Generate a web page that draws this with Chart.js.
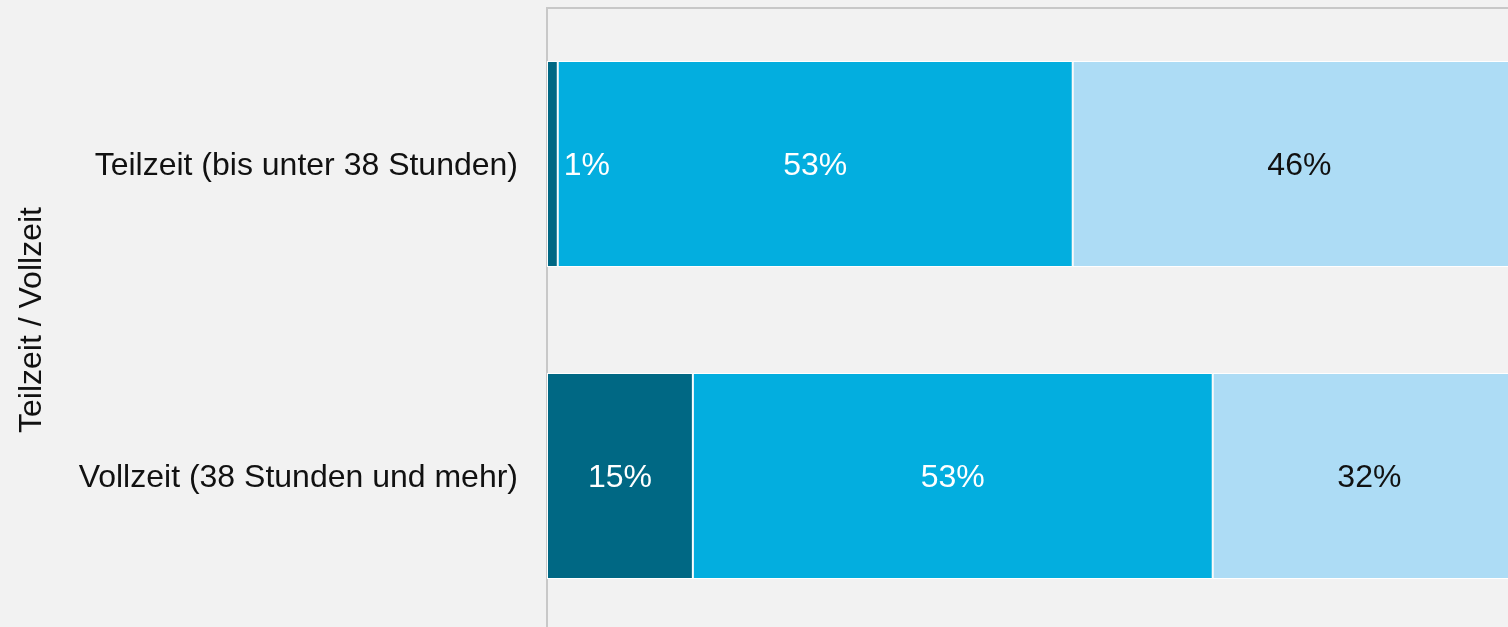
<!DOCTYPE html>
<html>
<head>
<meta charset="utf-8">
<script src="https://cdn.jsdelivr.net/npm/chart.js@4"></script>
<style>
  html, body { margin: 0; padding: 0; background: #f2f2f2; overflow: hidden; }
  #wrap { width: 1530px; height: 636px; }
</style>
</head>
<body>
<div id="wrap"><canvas id="chart"></canvas></div>
<script>
// categories and series (share in %)
const categories = ['Teilzeit (bis unter 38 Stunden)', 'Vollzeit (38 Stunden und mehr)'];
const seriesNames = ['niedrig', 'mittel', 'hoch'];
const seriesDark = [1.1, 14.9];
const seriesMid = [52.6, 53.1];
const seriesLight = [46.3, 32.0];
const axisTitle = 'Teilzeit / Vollzeit';

const colors = ['#006884', '#03aedf', '#addcf5'];
const labelColors = ['#ffffff', '#ffffff', '#111111'];
const fontFamily = '"Liberation Sans", Arial, sans-serif';

// draws the percent labels inside each segment
const barLabels = {
  id: 'barLabels',
  afterDatasetsDraw(chart) {
    const ctx = chart.ctx;
    ctx.save();
    ctx.font = '32px ' + fontFamily;
    ctx.textBaseline = 'middle';
    chart.data.datasets.forEach(function (ds, i) {
      const meta = chart.getDatasetMeta(i);
      meta.data.forEach(function (bar, j) {
        const v = ds.data[j];
        const text = Math.round(v) + '%';
        const w = Math.abs(bar.x - bar.base);
        ctx.fillStyle = labelColors[i];
        if (w < 40) {
          // too narrow, put it just right of the segment
          ctx.textAlign = 'left';
          ctx.fillText(text, bar.x + 6, bar.y + 2);
        } else {
          ctx.textAlign = 'center';
          ctx.fillText(text, (bar.x + bar.base) / 2, bar.y + 2);
        }
      });
    });
    ctx.restore();
  }
};

const ctx = document.getElementById('chart').getContext('2d');
new Chart(ctx, {
  type: 'bar',
  data: {
    labels: categories,
    datasets: [
      { label: seriesNames[0], data: seriesDark, backgroundColor: colors[0] },
      { label: seriesNames[1], data: seriesMid, backgroundColor: colors[1] },
      { label: seriesNames[2], data: seriesLight, backgroundColor: colors[2] }
    ].map(function (d) {
      return Object.assign(d, {
        borderColor: '#ffffff',
        borderWidth: 1,
        borderSkipped: false,
        categoryPercentage: 1,
        barPercentage: 0.66
      });
    })
  },
  options: {
    indexAxis: 'y',
    responsive: true,
    maintainAspectRatio: false,
    animation: false,
    layout: { padding: { top: 8, right: 4, bottom: 4, left: 0 } },
    plugins: {
      legend: { display: false },
      tooltip: { enabled: false }
    },
    scales: {
      x: {
        position: 'top',
        stacked: true,
        min: 0,
        max: 100,
        ticks: { display: false },
        grid: { display: false, drawTicks: false },
        border: { display: true, color: '#c8c8c8', width: 2 },
        afterFit: function (scale) {
          scale.height = 0;
          scale.paddingLeft = 0;
          scale.paddingRight = 0;
        }
      },
      y: {
        stacked: true,
        ticks: {
          color: '#111111',
          padding: 29,
          labelOffset: 2,
          font: { family: fontFamily, size: 32 }
        },
        grid: { display: false, drawTicks: false },
        border: { display: true, color: '#c8c8c8', width: 2 },
        title: {
          display: true,
          text: axisTitle,
          color: '#111111',
          padding: { top: 13, bottom: 0 },
          font: { family: fontFamily, size: 32 }
        },
        afterFit: function (scale) {
          scale.width = 547;
          scale.paddingTop = 0;
          scale.paddingBottom = 0;
        }
      }
    }
  },
  plugins: [barLabels]
});
</script>
</body>
</html>
